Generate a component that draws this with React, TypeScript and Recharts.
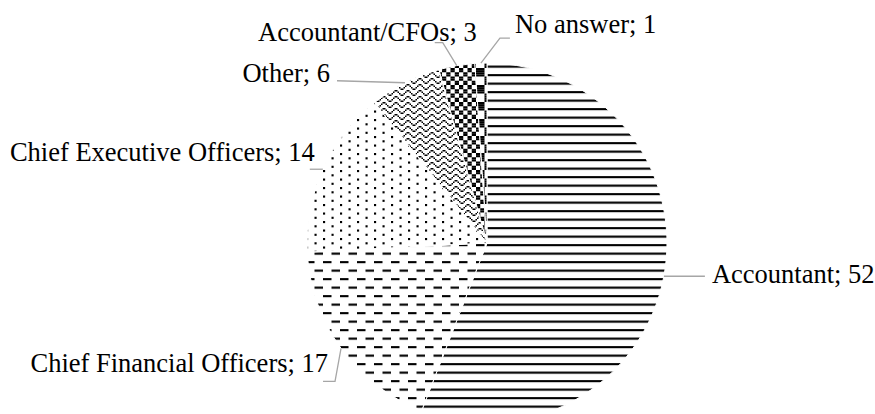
import { PieChart, Pie, Cell } from 'recharts';

// survey answers: who prepares the report
const CATEGORIES = [
  'Accountant',
  'Chief Financial Officers',
  'Chief Executive Officers',
  'Other',
  'Accountant/CFOs',
  'No answer',
];
const COUNTS = [52, 17, 14, 6, 3, 1];
const PATTERNS = ['ltHorz', 'dashHorz', 'pct10', 'zigZag', 'smCheck', 'lgCheck'];

const data = CATEGORIES.map((name, i) => ({ name, value: COUNTS[i] }));

// office-style 8x8 fill patterns, one bit = PX screen pixels
const PX = 2.125;
const BITS: Record<string, string[]> = {
  ltHorz: ['11111111', '00000000', '00000000', '00000000', '11111111', '00000000', '00000000', '00000000'],
  dashHorz: ['11110000', '00000000', '00000000', '00000000', '00001111', '00000000', '00000000', '00000000'],
  pct10: ['10000000', '00000000', '00001000', '00000000', '10000000', '00000000', '00001000', '00000000'],
  zigZag: ['10000001', '01000010', '00100100', '00011000', '10000001', '01000010', '00100100', '00011000'],
  smCheck: ['11001100', '11001100', '00110011', '00110011', '11001100', '11001100', '00110011', '00110011'],
  lgCheck: ['11110000', '11110000', '11110000', '11110000', '00001111', '00001111', '00001111', '00001111'],
};
const PATTERN_SCALE: Record<string, number> = { zigZag: 1.5 };
const PATTERN_OFFSET_Y: Record<string, number> = { ltHorz: 6.1, dashHorz: 6.1 };

// leader line points and text position, relative to the slice's outer mid point
const LABEL_LAYOUT: { path: number[][]; text: number[]; anchor: 'start' | 'end' }[] = [
  { path: [[41, 0]], text: [48, 7], anchor: 'start' },
  { path: [[-6, 33], [-18, 33]], text: [-13, 24], anchor: 'end' },
  { path: [[-13, 0]], text: [-8, -8], anchor: 'end' },
  { path: [[-68, -2]], text: [-75, -1], anchor: 'end' },
  { path: [[-14, -23], [-22, -23]], text: [20, -25], anchor: 'end' },
  { path: [[19, -25], [29, -25]], text: [34, -30], anchor: 'start' },
];

const RAD = Math.PI / 180;

function PatternDef({ id }: { id: string }) {
  const rows = BITS[id];
  const px = PATTERN_SCALE[id] || PX;
  const rects: JSX.Element[] = [];
  rows.forEach((row, r) => {
    let c = 0;
    while (c < 8) {
      if (row[c] === '1') {
        let e = c;
        while (e < 8 && row[e] === '1') e++;
        rects.push(
          <rect key={`${r}-${c}`} x={c * px} y={r * px} width={(e - c) * px} height={px} fill="#000" />
        );
        c = e;
      } else c++;
    }
  });
  return (
    <pattern
      id={`pat-${id}`}
      patternUnits="userSpaceOnUse"
      x={0}
      y={PATTERN_OFFSET_Y[id] || 0}
      width={8 * px}
      height={8 * px}
    >
      <rect x={0} y={0} width={8 * px} height={8 * px} fill="#fff" />
      {rects}
    </pattern>
  );
}

const renderLabel = (props: any) => {
  const { cx, cy, midAngle, outerRadius, index, name, value } = props;
  const ax = cx + outerRadius * Math.cos(-midAngle * RAD);
  const ay = cy + outerRadius * Math.sin(-midAngle * RAD);
  const lay = LABEL_LAYOUT[index];
  const pts = [[0, 0], ...lay.path].map(([dx, dy]) => `${ax + dx},${ay + dy}`).join(' ');
  return (
    <g key={`lbl-${index}`}>
      <polyline points={pts} fill="none" stroke="#a6a6a6" strokeWidth={1.3} />
      <text
        x={ax + lay.text[0]}
        y={ay + lay.text[1]}
        textAnchor={lay.anchor}
        fontFamily="'Liberation Serif', 'Times New Roman', serif"
        fontSize={26.5}
        fill="#000"
      >
        {`${name}; ${value}`}
      </text>
    </g>
  );
};

export default function App() {
  return (
    <div style={{ position: 'absolute', left: 0, top: 0, width: 875, height: 414, background: '#fff' }}>
      <PieChart width={875} height={414} margin={{ top: 0, right: 0, bottom: 0, left: 0 }}>
        <defs>
          {PATTERNS.map((p) => (
            <PatternDef key={p} id={p} />
          ))}
        </defs>
        <Pie
          data={data}
          dataKey="value"
          nameKey="name"
          cx={487}
          cy={243}
          outerRadius={180}
          startAngle={90}
          endAngle={-270}
          stroke="#fff"
          strokeWidth={1}
          label={renderLabel}
          labelLine={false}
          isAnimationActive={false}
        >
          {data.map((d, i) => (
            <Cell key={d.name} fill={`url(#pat-${PATTERNS[i]})`} />
          ))}
        </Pie>
      </PieChart>
    </div>
  );
}
